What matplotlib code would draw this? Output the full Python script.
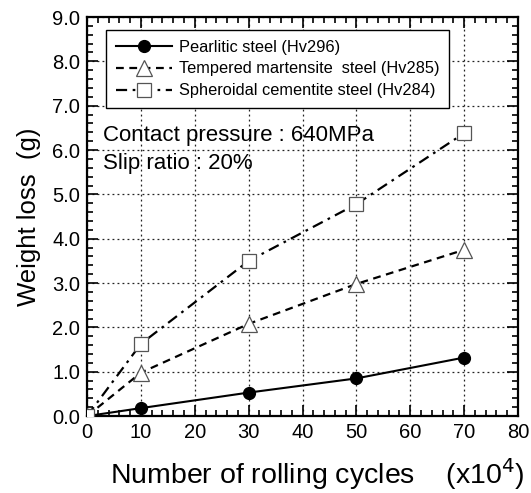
import matplotlib
matplotlib.use("Agg")
import matplotlib.pyplot as plt
from matplotlib.ticker import MultipleLocator, FormatStrFormatter

plt.rcParams['font.family'] = ['Liberation Sans', 'DejaVu Sans']

cycles = [0, 10, 30, 50, 70]
pearlitic = [0.0, 0.18, 0.53, 0.85, 1.32]
tempered = [0.0, 0.98, 2.08, 2.98, 3.75]
spheroidal = [0.0, 1.63, 3.50, 4.78, 6.38]

labels = ["Pearlitic steel (Hv296)",
          "Tempered martensite  steel (Hv285)",
          "Spheroidal cementite steel (Hv284)"]

fig = plt.figure(figsize=(5.31, 4.93), dpi=100)
ax = fig.add_axes([0.164, 0.156, 0.8115, 0.8095])

ax.plot(cycles, pearlitic, '-', color='black', lw=1.5, marker='o', ms=8.5,
        mfc='black', mec='black', label=labels[0], zorder=5)
ax.plot(cycles, tempered, '--', color='black', lw=1.6, marker='^', ms=11,
        mfc='white', mec='#555555', mew=0.9, label=labels[1], zorder=5,
        dashes=(3.5, 2.5))
ax.plot(cycles, spheroidal, color='black', lw=1.6, marker='s', ms=10,
        mfc='white', mec='#555555', mew=0.9, label=labels[2], zorder=5,
        dashes=(5, 2.5, 1.2, 2.5))

ax.set_xlim(0, 80)
ax.set_ylim(0, 9)
ax.xaxis.set_major_locator(MultipleLocator(10))
ax.xaxis.set_minor_locator(MultipleLocator(2))
ax.yaxis.set_major_locator(MultipleLocator(1))
ax.yaxis.set_minor_locator(MultipleLocator(0.2))
ax.yaxis.set_major_formatter(FormatStrFormatter('%.1f'))
ax.tick_params(which='both', direction='in', top=True, right=True, width=1.2)
ax.tick_params(which='major', length=8, labelsize=14.5, pad=5)
ax.tick_params(which='minor', length=4)
for s in ax.spines.values():
    s.set_linewidth(1.6)

ax.grid(True, which='major', linestyle=(0, (1.5, 2.5)), color='#222222', lw=0.9)

ax.set_xlabel("Number of rolling cycles    (x10$^{4}$)", fontsize=20.5)
ax.xaxis.set_label_coords(0.535, -0.1)
ax.set_ylabel("Weight loss  (g)", fontsize=18.5, labelpad=8)

leg = ax.legend(loc='upper left', bbox_to_anchor=(0.045, 0.968), fontsize=11.8,
                frameon=True, fancybox=False, edgecolor='black', framealpha=1,
                handlelength=3.4, borderpad=0.6, labelspacing=0.42,
                borderaxespad=0, handletextpad=0.4)
leg.get_frame().set_linewidth(1.0)

ax.text(0.037, 0.704, "Contact pressure : 640MPa", transform=ax.transAxes,
        fontsize=16, va='center')
ax.text(0.037, 0.634, "Slip ratio : 20%", transform=ax.transAxes,
        fontsize=16, va='center')

fig.savefig("out.png", dpi=100)
